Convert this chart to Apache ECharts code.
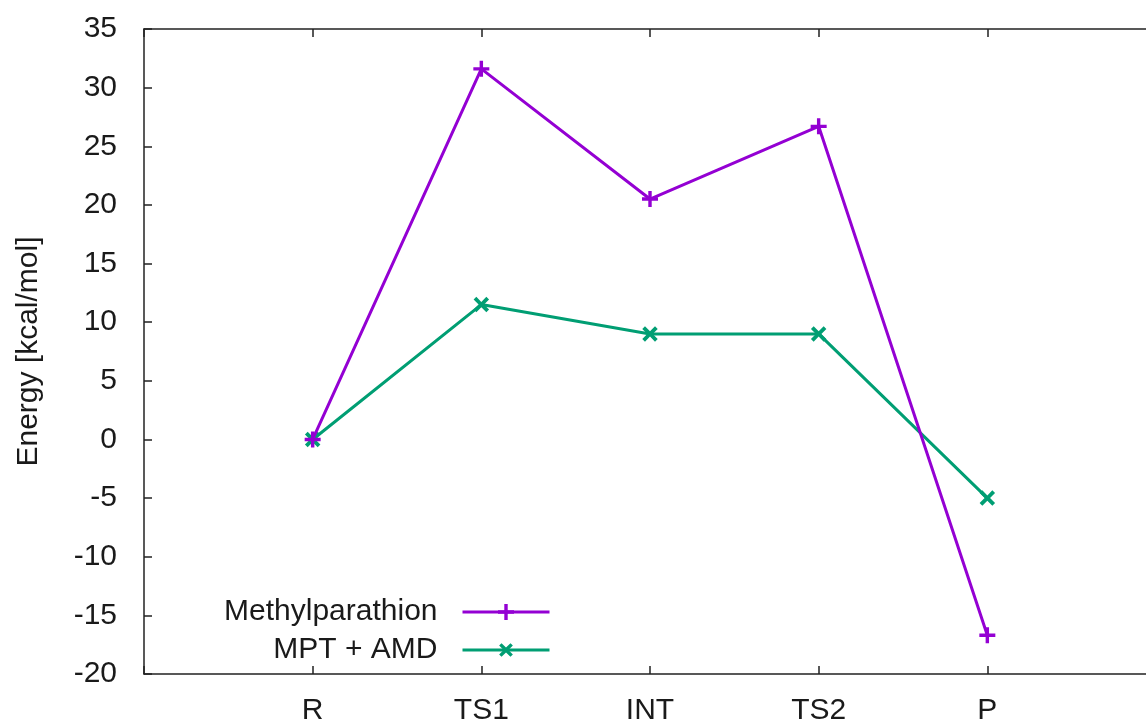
<!DOCTYPE html>
<html>
<head>
<meta charset="utf-8">
<title>Energy profile</title>
<script src="https://cdn.jsdelivr.net/npm/echarts@6/dist/echarts.min.js"></script>
<style>
  html, body { margin: 0; padding: 0; background: #ffffff; }
  #chart { width: 1146px; height: 720px; }
</style>
</head>
<body>
<div id="chart"></div>
<script>
// Reaction coordinate stations
const stages = ['R', 'TS1', 'INT', 'TS2', 'P'];
// Relative energies in kcal/mol
const methylparathion = [0, 31.6, 20.5, 26.7, -16.7];
const mptAmd = [0, 11.5, 9.0, 9.0, -5.0];
// Energy axis ticks
const yMin = -20, yMax = 35, yStep = 5;

const FONT = '"Liberation Sans", Arial, sans-serif';
const TEXT = '#1a1a1a';
const AXIS = '#222222';
const FS = 30;

// Stages sit at x = 1..5 on a 0..6 value axis
const toPoints = vals => vals.map((v, i) => [i + 1, v]);

const plusPath = 'path://M-1.6,-7.5L1.6,-7.5L1.6,-1.6L7.5,-1.6L7.5,1.6L1.6,1.6L1.6,7.5L-1.6,7.5L-1.6,1.6L-7.5,1.6L-7.5,-1.6L-1.6,-1.6Z';

const chart = echarts.init(document.getElementById('chart'), null, { renderer: 'canvas' });

const xCommon = {
  type: 'value', min: 0, max: 6, interval: 1,
  axisLine: { show: true, onZero: false, lineStyle: { color: AXIS, width: 1.5 } },
  axisTick: { show: true, inside: true, length: 8, lineStyle: { color: AXIS, width: 1.5 } },
  splitLine: { show: false }
};

const legendCommon = {
  orient: 'horizontal', align: 'right',
  right: 590,
  itemWidth: 87, itemHeight: 20, itemGap: 0,
  lineStyle: { width: 3 },
  textStyle: { color: TEXT, fontSize: FS, fontFamily: FONT, padding: [0, 20, 0, 0] },
  selectedMode: false
};

chart.setOption({
  animation: false,
  backgroundColor: '#ffffff',
  textStyle: { fontFamily: FONT },
  grid: { left: 144, top: 29, width: 1012, height: 645, containLabel: false, outerBoundsMode: 'none' },
  xAxis: [
    Object.assign({}, xCommon, {
      position: 'bottom',
      axisLabel: {
        show: true, margin: 22, color: TEXT, fontSize: FS, fontFamily: FONT,
        formatter: v => (v >= 1 && v <= stages.length && Number.isInteger(v)) ? stages[v - 1] : ''
      }
    }),
    Object.assign({}, xCommon, {
      position: 'top',
      axisLabel: { show: false }
    })
  ],
  yAxis: {
    type: 'value', min: yMin, max: yMax, interval: yStep,
    name: 'Energy [kcal/mol]',
    nameLocation: 'middle',
    nameGap: 100,
    nameTextStyle: { color: TEXT, fontSize: FS, fontFamily: FONT },
    axisLine: { show: true, lineStyle: { color: AXIS, width: 1.5 } },
    axisTick: { show: true, inside: true, length: 8, lineStyle: { color: AXIS, width: 1.5 } },
    axisLabel: { margin: 27, color: TEXT, fontSize: FS, fontFamily: FONT },
    splitLine: { show: false }
  },
  legend: [
    Object.assign({}, legendCommon, { data: ['Methylparathion'], top: 592 }),
    Object.assign({}, legendCommon, { data: ['MPT + AMD'], top: 630 })
  ],
  series: [
    {
      name: 'Methylparathion',
      type: 'line',
      data: toPoints(methylparathion),
      symbol: plusPath,
      symbolSize: 16,
      showAllSymbol: true,
      lineStyle: { color: '#9400d3', width: 3 },
      itemStyle: { color: '#9400d3' },
      z: 3
    },
    {
      name: 'MPT + AMD',
      type: 'line',
      data: toPoints(mptAmd),
      symbol: plusPath,
      symbolRotate: 45,
      symbolSize: 18,
      showAllSymbol: true,
      lineStyle: { color: '#009e73', width: 3 },
      itemStyle: { color: '#009e73' },
      z: 2
    }
  ]
});
</script>
</body>
</html>
